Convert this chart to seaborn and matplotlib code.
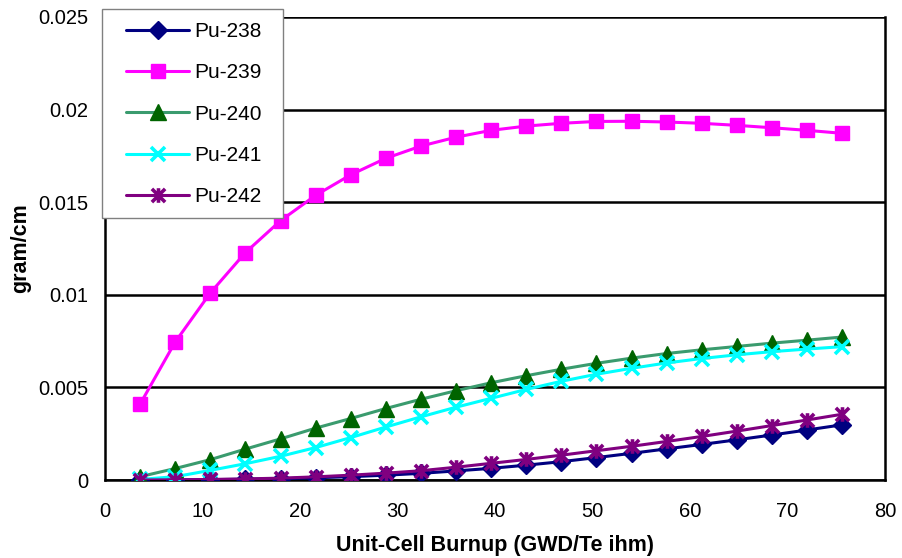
import matplotlib
matplotlib.use("Agg")
import matplotlib.pyplot as plt
import seaborn as sns
import pandas as pd
from matplotlib.path import Path
from matplotlib.patches import Rectangle

burnup = [3.6, 7.2, 10.8, 14.4, 18.0, 21.6, 25.2, 28.8, 32.4, 36.0, 39.6,
          43.2, 46.8, 50.4, 54.0, 57.6, 61.2, 64.8, 68.4, 72.0, 75.6]
pu238 = [0.0, 0.00001, 0.00002, 0.00004, 0.00007, 0.00012, 0.00018, 0.00026, 0.00036, 0.00049, 0.00063,
         0.0008, 0.00099, 0.00121, 0.00144, 0.00168, 0.00192, 0.00217, 0.00243, 0.0027, 0.00298]
pu239 = [0.0041, 0.00745, 0.0101, 0.01228, 0.0140, 0.01537, 0.01648, 0.01737, 0.01803, 0.01851, 0.01888,
         0.01911, 0.01926, 0.01936, 0.01937, 0.01933, 0.01926, 0.01915, 0.01902, 0.01888, 0.01872]
pu240 = [0.00018, 0.00062, 0.00110, 0.00167, 0.00222, 0.00280, 0.00332, 0.00386, 0.00436, 0.00482, 0.00525,
         0.00563, 0.00598, 0.00630, 0.00658, 0.00683, 0.00703, 0.00721, 0.00739, 0.00755, 0.00772]
pu241 = [0.00003, 0.00018, 0.00052, 0.00088, 0.00128, 0.00175, 0.00229, 0.00286, 0.00341, 0.00393, 0.00441,
         0.00489, 0.00533, 0.00571, 0.00603, 0.00632, 0.00656, 0.00676, 0.00693, 0.00707, 0.00720]
pu242 = [0.0, 0.00001, 0.00003, 0.00006, 0.0001, 0.00017, 0.00026, 0.00037, 0.0005, 0.00069, 0.0009,
         0.00111, 0.00134, 0.00158, 0.00182, 0.00208, 0.00235, 0.00264, 0.00294, 0.00324, 0.00355]
labels = ["Pu-238", "Pu-239", "Pu-240", "Pu-241", "Pu-242"]
xticks = [0, 10, 20, 30, 40, 50, 60, 70, 80]
yticks = [0, 0.005, 0.01, 0.015, 0.02, 0.025]
ytick_labels = ["0", "0.005", "0.01", "0.015", "0.02", "0.025"]

sns.set_style("white")
plt.rcParams["font.family"] = ["Liberation Sans", "DejaVu Sans"]
plt.rcParams["text.color"] = "black"
plt.rcParams["axes.labelcolor"] = "black"
plt.rcParams["xtick.color"] = "black"
plt.rcParams["ytick.color"] = "black"

W, H = 902, 558
fig = plt.figure(figsize=(W / 100, H / 100), dpi=100)
ax = fig.add_axes([105 / W, 78 / H, 780 / W, 463 / H])

asterisk = Path([(-1, -1), (1, 1), (-1, 1), (1, -1), (0, -1.1), (0, 1.1)],
                [Path.MOVETO, Path.LINETO, Path.MOVETO, Path.LINETO, Path.MOVETO, Path.LINETO])

styles = [
    dict(color="#000080", marker="D", mfc="#000080", mec="#000080", ms=9, mew=1),
    dict(color="#FF00FF", marker="s", mfc="#FF00FF", mec="#FF00FF", ms=9.5, mew=1),
    dict(color="#3A9B6E", marker="^", mfc="#006400", mec="#006400", ms=11, mew=1),
    dict(color="#00FFFF", marker="x", mfc="#00FFFF", mec="#00FFFF", ms=10, mew=2.6),
    dict(color="#800080", marker=asterisk, mfc="#800080", mec="#800080", ms=10.5, mew=2.6),
]
series = [pu238, pu239, pu240, pu241, pu242]

for lab, vals, st in zip(labels, series, styles):
    df = pd.DataFrame({"x": burnup, "y": vals})
    sns.lineplot(data=df, x="x", y="y", ax=ax, label=lab, color=st["color"], lw=2.2,
                 marker=st["marker"], markersize=st["ms"], markerfacecolor=st["mfc"],
                 markeredgecolor=st["mec"], markeredgewidth=st["mew"], zorder=3)

handles, hlabels = ax.get_legend_handles_labels()
if ax.get_legend() is not None:
    ax.get_legend().remove()

ax.set_xlim(0, 80)
ax.set_ylim(0, 0.025)
ax.set_xticks(xticks)
ax.set_xticklabels([str(t) for t in xticks])
ax.set_yticks(yticks)
ax.set_yticklabels(ytick_labels)
ax.tick_params(axis="both", labelsize=14.5, length=11, width=1.2, direction="inout")
ax.tick_params(axis="x", pad=10.5)
ax.tick_params(axis="y", pad=6.5)
ax.yaxis.grid(True, color="black", lw=1.8)
ax.set_axisbelow(True)
for s in ["left", "bottom", "right"]:
    ax.spines[s].set_color("black")
    ax.spines[s].set_linewidth(1.8)
ax.spines["top"].set_visible(False)

ax.set_xlabel("Unit-Cell Burnup (GWD/Te ihm)", fontsize=15.5, fontweight="bold", va="top")
ax.xaxis.set_label_coords(0.5, (480 - 535) / 463)
ax.set_ylabel("gram/cm", fontsize=15.5, fontweight="bold")
ax.yaxis.set_label_coords((31 - 105) / 780, 0.5)

# legend box
frame = Rectangle((102 / W, 1 - 218 / H), 181 / W, 209 / H, transform=fig.transFigure,
                  facecolor="white", edgecolor="#808080", lw=1.0, zorder=4)
fig.patches.append(frame)
leg = fig.legend(handles, hlabels, loc="upper left", bbox_to_anchor=(126 / W, 1 - 22 / H),
                 bbox_transform=fig.transFigure, fontsize=15, frameon=False,
                 handlelength=3.03, handletextpad=0.24, labelspacing=1.07, borderpad=0,
                 borderaxespad=0)
leg.set_zorder(6)

fig.savefig("out.png", dpi=100)
